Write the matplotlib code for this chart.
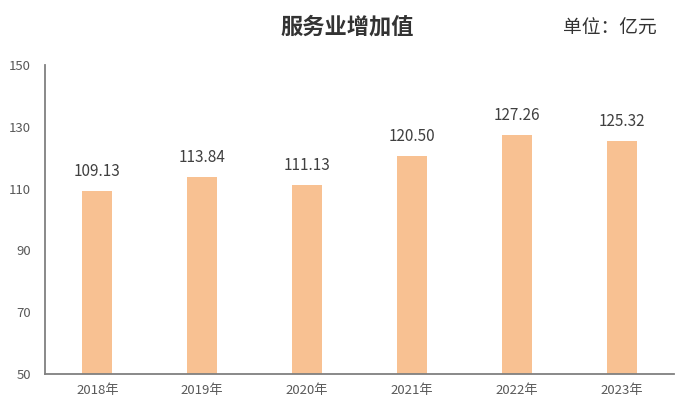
import matplotlib
matplotlib.use("Agg")
from matplotlib import pyplot as plt
import numpy as np

plt.rcParams["font.family"] = ["Noto Sans CJK SC", "DejaVu Sans"]

years = ["2018年", "2019年", "2020年", "2021年", "2022年", "2023年"]
values = [109.13, 113.84, 111.13, 120.50, 127.26, 125.32]
y_ticks = [50, 70, 90, 110, 130, 150]

fig = plt.figure(figsize=(6.93, 4.15), dpi=100)
ax = fig.add_axes([0.065, 0.0988, 0.9076, 0.7442])

x = np.arange(len(years))
bars = ax.bar(x, values, width=0.286, color="#F8C192", zorder=2)

for rect, v in zip(bars, values):
    ax.annotate(f"{v:.2f}",
                (rect.get_x() + rect.get_width() / 2, rect.get_height()),
                xytext=(0, 8), textcoords="offset points",
                ha="center", va="bottom", fontsize=11, color="#404040")

ax.set_xlim(-0.5, len(years) - 0.5)
ax.set_ylim(50, 150)
ax.set_yticks(y_ticks)
ax.set_xticks(x)
ax.set_xticklabels(years)

for s in ["top", "right"]:
    ax.spines[s].set_visible(False)
for s in ["left", "bottom"]:
    ax.spines[s].set_color("#808080")
    ax.spines[s].set_linewidth(1.3)

ax.tick_params(axis="both", length=0, labelsize=9.5, labelcolor="#595959")
ax.tick_params(axis="y", pad=10)
ax.tick_params(axis="x", pad=7)

fig.text(0.501, 0.935, "服务业增加值", ha="center", va="center",
         fontsize=16, fontweight="bold", color="#333333")
fig.text(0.948, 0.932, "单位：亿元", ha="right", va="center",
         fontsize=13.5, color="#333333")

fig.savefig("out.png", dpi=100)
